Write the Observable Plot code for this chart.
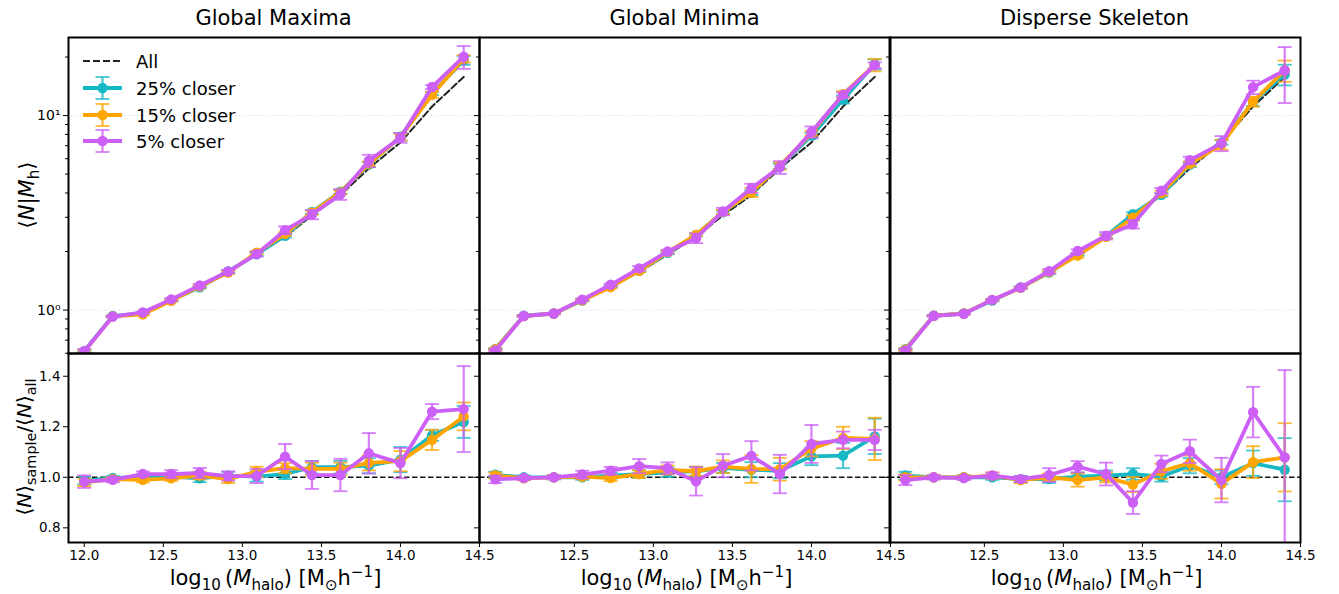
<!DOCTYPE html>
<html><head><meta charset="utf-8">
<script src="https://cdn.jsdelivr.net/npm/d3@7"></script>
<script src="https://cdn.jsdelivr.net/npm/@observablehq/plot@0.6"></script>
<style>
body{margin:0;background:#fff;font-family:"DejaVu Sans",sans-serif;color:#000;}
#root{position:relative;width:1339px;height:594px;overflow:hidden;background:#fff;}
.abs{position:absolute;white-space:nowrap;}
.title{font-size:21px;transform:translate(-50%,-50%);}
.xlab{font-size:21px;transform:translate(-50%,-50%);}
.ylab{font-size:21px;transform:translate(-50%,-50%) rotate(-90deg);}
.ylab2{font-size:20px;transform:translate(-50%,-50%) rotate(-90deg);}
sub,sup{font-size:72%;line-height:0;}
.leg{font-size:18px;transform:translateY(-50%);}
</style></head><body><div id="root"></div><script>
// ---------------- data ----------------
const massBins = [12.0, 12.18, 12.37, 12.55, 12.73, 12.91, 13.09, 13.27, 13.44, 13.62, 13.8, 14.0, 14.2, 14.4];
const nAll = [0.625, 0.935, 0.96, 1.12, 1.315, 1.57, 1.93, 2.38, 3.07, 3.9, 5.35, 7.28, 11.13, 15.8];
const panelTitles = ["Global Maxima", "Global Minima", "Disperse Skeleton"];
const sampleNames = ["25% closer", "15% closer", "5% closer"];
const sampleColors = ["#17b8c5", "#ffa500", "#cc5ff6"];
const xTicksFirst = [12.0, 12.5, 13.0, 13.5, 14.0, 14.5];
const xTicksOther = [12.5, 13.0, 13.5, 14.0, 14.5];
const yTopMajor = [1, 10];
const yTopMinor = [0.6, 0.7, 0.8, 0.9, 2, 3, 4, 5, 6, 7, 8, 9, 20];
const yBottomTicks = [0.8, 1.0, 1.2, 1.4];

// Global Maxima
const gmaxN25 = [0.617, 0.932, 0.963, 1.123, 1.31, 1.581, 1.936, 2.411, 3.193, 4.056, 5.596, 7.79, 12.98, 19.26];
const gmaxN15 = [0.613, 0.928, 0.950, 1.116, 1.324, 1.559, 1.972, 2.466, 3.171, 4.029, 5.655, 7.746, 12.78, 19.61];
const gmaxN5  = [0.614, 0.926, 0.972, 1.135, 1.337, 1.578, 1.940, 2.575, 3.098, 3.935, 5.858, 7.688, 14.02, 20.07];
const gmaxNErr25 = [0.009, 0.007, 0.01, 0.011, 0.02, 0.024, 0.039, 0.048, 0.077, 0.098, 0.16, 0.36, 0.245, 1.0];
const gmaxNErr15 = [0.009, 0.007, 0.01, 0.011, 0.02, 0.024, 0.039, 0.048, 0.077, 0.098, 0.16, 0.29, 0.45, 0.87];
const gmaxNErr5  = [0.016, 0.009, 0.01, 0.017, 0.026, 0.031, 0.058, 0.119, 0.169, 0.25, 0.43, 0.44, 0.33, 2.69];
const gmaxR25 = [0.987, 0.997, 1.003, 1.003, 0.996, 1.007, 1.003, 1.013, 1.04, 1.04, 1.046, 1.07, 1.166, 1.219];
const gmaxR15 = [0.98, 0.993, 0.99, 0.996, 1.007, 0.993, 1.022, 1.036, 1.033, 1.033, 1.057, 1.064, 1.148, 1.241];
const gmaxR5  = [0.983, 0.99, 1.013, 1.013, 1.017, 1.005, 1.005, 1.082, 1.009, 1.009, 1.095, 1.056, 1.26, 1.27];
const gmaxRErr25 = [0.015, 0.008, 0.01, 0.01, 0.015, 0.015, 0.02, 0.02, 0.025, 0.025, 0.03, 0.05, 0.022, 0.063];
const gmaxRErr15 = [0.015, 0.008, 0.01, 0.01, 0.015, 0.015, 0.02, 0.02, 0.025, 0.025, 0.03, 0.04, 0.04, 0.055];
const gmaxRErr5  = [0.025, 0.01, 0.01, 0.015, 0.02, 0.018, 0.028, 0.05, 0.055, 0.064, 0.08, 0.06, 0.03, 0.17];

// Global Minima
const gminN25 = [0.631, 0.935, 0.96, 1.12, 1.324, 1.59, 1.969, 2.437, 3.184, 4.017, 5.489, 7.884, 12.09, 18.36];
const gminN15 = [0.629, 0.931, 0.96, 1.123, 1.311, 1.59, 1.986, 2.437, 3.199, 4.029, 5.521, 8.103, 12.87, 18.2];
const gminN5  = [0.62, 0.932, 0.96, 1.132, 1.349, 1.639, 1.999, 2.342, 3.211, 4.232, 5.42, 8.241, 12.78, 18.14];
const gminNErr25 = [0.0075, 0.007, 0.008, 0.011, 0.016, 0.024, 0.035, 0.043, 0.061, 0.117, 0.16, 0.255, 0.557, 1.106];
const gminNErr15 = [0.0075, 0.007, 0.008, 0.011, 0.016, 0.024, 0.035, 0.043, 0.077, 0.215, 0.241, 0.218, 0.49, 1.33];
const gminNErr5  = [0.009, 0.007, 0.008, 0.017, 0.02, 0.044, 0.044, 0.133, 0.141, 0.226, 0.407, 0.546, 0.367, 0.632];
const gminR25 = [1.01, 1.0, 1.0, 1.0, 1.007, 1.013, 1.02, 1.024, 1.037, 1.03, 1.026, 1.083, 1.086, 1.162];
const gminR15 = [1.007, 0.996, 1.0, 1.003, 0.997, 1.013, 1.029, 1.024, 1.042, 1.033, 1.032, 1.113, 1.156, 1.152];
const gminR5  = [0.992, 0.997, 1.0, 1.011, 1.026, 1.044, 1.036, 0.984, 1.046, 1.085, 1.013, 1.132, 1.148, 1.148];
const gminRErr25 = [0.012, 0.008, 0.008, 0.01, 0.012, 0.015, 0.018, 0.018, 0.02, 0.03, 0.03, 0.035, 0.05, 0.07];
const gminRErr15 = [0.012, 0.008, 0.008, 0.01, 0.012, 0.015, 0.018, 0.018, 0.025, 0.055, 0.045, 0.03, 0.044, 0.084];
const gminRErr5  = [0.015, 0.008, 0.008, 0.015, 0.015, 0.028, 0.023, 0.056, 0.046, 0.058, 0.076, 0.075, 0.033, 0.04];

// Disperse Skeleton
const dispN25 = [0.629, 0.935, 0.96, 1.12, 1.306, 1.559, 1.936, 2.397, 3.11, 3.912, 5.596, 7.28, 11.75, 16.27];
const dispN15 = [0.625, 0.935, 0.96, 1.128, 1.301, 1.57, 1.909, 2.38, 2.981, 3.994, 5.65, 7.091, 11.8, 17.05];
const dispN5  = [0.618, 0.935, 0.957, 1.128, 1.306, 1.584, 2.011, 2.411, 2.763, 4.107, 5.901, 7.2, 14.0, 17.05];
const dispNErr25 = [0.009, 0.0075, 0.008, 0.011, 0.016, 0.024, 0.029, 0.048, 0.071, 0.078, 0.16, 0.197, 0.557, 1.975];
const dispNErr15 = [0.0075, 0.0075, 0.008, 0.013, 0.016, 0.024, 0.05, 0.048, 0.092, 0.117, 0.16, 0.422, 0.701, 2.133];
const dispNErr5  = [0.0125, 0.0075, 0.008, 0.013, 0.016, 0.042, 0.042, 0.107, 0.138, 0.129, 0.246, 0.641, 1.113, 5.45];
const dispR25 = [1.007, 1.0, 1.0, 1.0, 0.993, 0.993, 1.003, 1.007, 1.013, 1.003, 1.046, 1.0, 1.056, 1.03];
const dispR15 = [1.0, 1.0, 1.0, 1.007, 0.989, 1.0, 0.989, 1.0, 0.971, 1.024, 1.056, 0.974, 1.06, 1.079];
const dispR5  = [0.989, 1.0, 0.997, 1.007, 0.993, 1.009, 1.042, 1.013, 0.9, 1.053, 1.103, 0.989, 1.258, 1.079];
const dispRErr25 = [0.015, 0.008, 0.008, 0.01, 0.012, 0.015, 0.015, 0.02, 0.023, 0.02, 0.03, 0.027, 0.05, 0.125];
const dispRErr15 = [0.012, 0.008, 0.008, 0.012, 0.012, 0.015, 0.026, 0.02, 0.03, 0.03, 0.03, 0.058, 0.063, 0.135];
const dispRErr5  = [0.02, 0.008, 0.008, 0.012, 0.012, 0.027, 0.022, 0.045, 0.045, 0.033, 0.046, 0.088, 0.1, 0.345];

const panelData = [
  {n: [gmaxN25, gmaxN15, gmaxN5], ne: [gmaxNErr25, gmaxNErr15, gmaxNErr5], r: [gmaxR25, gmaxR15, gmaxR5], re: [gmaxRErr25, gmaxRErr15, gmaxRErr5]},
  {n: [gminN25, gminN15, gminN5], ne: [gminNErr25, gminNErr15, gminNErr5], r: [gminR25, gminR15, gminR5], re: [gminRErr25, gminRErr15, gminRErr5]},
  {n: [dispN25, dispN15, dispN5], ne: [dispNErr25, dispNErr15, dispNErr5], r: [dispR25, dispR15, dispR5], re: [dispRErr25, dispRErr15, dispRErr5]}
];

// ---------------- layout ----------------
const root = document.getElementById("root");
const panelLeft = [68, 479, 889];
const panelW = 411;
const rowTop = [37, 353];
const rowH = [316, 189];
const capSymbol = {draw(ctx, size) { const r = Math.sqrt(size / Math.PI); ctx.moveTo(-r, 0); ctx.lineTo(r, 0); }};

function rows(xs, ys, es, si) {
  return xs.map((x, i) => ({x, y: ys[i], lo: ys[i] - es[i], hi: ys[i] + es[i], s: si}));
}

function makePanel(col, row) {
  const mL = 60, mR = 20, mT = 20, mB = row === 0 ? 20 : 40;
  const pd = panelData[col];
  const vals = row === 0 ? pd.n : pd.r;
  const errs = row === 0 ? pd.ne : pd.re;
  const marks = [];
  if (row === 0) {
    marks.push(Plot.gridY(yTopMajor, {stroke: "#cfcfcf", strokeOpacity: 1, strokeDasharray: "1,2", strokeWidth: 0.8}));
    marks.push(Plot.line(massBins.map((x, i) => ({x, y: nAll[i]})), {x: "x", y: "y", stroke: "#222", strokeWidth: 2, strokeDasharray: "7,3", clip: true}));
  } else {
    marks.push(Plot.ruleY([1], {stroke: "#111", strokeWidth: 1.4, strokeDasharray: "5.5,2.5"}));
  }
  for (let s = 0; s < 3; s++) {
    const d = rows(massBins, vals[s], errs[s], s);
    const c = sampleColors[s];
    marks.push(Plot.ruleX(d, {x: "x", y1: "lo", y2: "hi", stroke: c, strokeWidth: 2.2, strokeOpacity: 0.8, clip: true}));
    marks.push(Plot.dot(d, {x: "x", y: "lo", symbol: capSymbol, r: 7, stroke: c, strokeWidth: 1.8, strokeOpacity: 0.8, fill: "none", clip: true}));
    marks.push(Plot.dot(d, {x: "x", y: "hi", symbol: capSymbol, r: 7, stroke: c, strokeWidth: 1.8, strokeOpacity: 0.8, fill: "none", clip: true}));
    marks.push(Plot.line(d, {x: "x", y: "y", stroke: c, strokeWidth: 3.8, clip: true}));
    marks.push(Plot.dot(d, {x: "x", y: "y", r: 5.2, fill: c, stroke: "none", clip: true}));
  }
  // axes
  if (row === 0) {
    marks.push(Plot.axisY(yTopMajor, {anchor: "left", tickSize: 5, tickPadding: 3, fontSize: 14, label: null,
      tickFormat: col === 0 ? (d => d === 1 ? "10\u2070" : "10\u00b9") : (() => "")}));
    marks.push(Plot.axisY(yTopMinor, {anchor: "left", tickSize: 3, label: null, tickFormat: () => ""}));
  } else {
    marks.push(Plot.axisY(yBottomTicks, {anchor: "left", tickSize: 5, tickPadding: 3, fontSize: 13.5, label: null,
      tickFormat: col === 0 ? d3.format(".1f") : (() => "")}));
    marks.push(Plot.axisX(col === 0 ? xTicksFirst : xTicksOther, {anchor: "bottom", tickSize: 5, tickPadding: 3, fontSize: 13.5, label: null,
      tickFormat: d3.format(".1f")}));
  }
  marks.push(Plot.frame({stroke: "black", strokeWidth: 2}));
  const svg = Plot.plot({
    width: mL + panelW + mR, height: mT + rowH[row] + mB,
    marginLeft: mL, marginRight: mR, marginTop: mT, marginBottom: mB,
    x: {domain: [11.9, 14.5], axis: null},
    y: row === 0 ? {type: "log", domain: [0.598, 25.2], axis: null} : {domain: [0.742, 1.49], axis: null},
    style: {background: "transparent", overflow: "visible", fontFamily: "DejaVu Sans, sans-serif", color: "black"},
    marks
  });
  svg.style.position = "absolute";
  svg.style.left = (panelLeft[col] - mL) + "px";
  svg.style.top = (rowTop[row] - mT) + "px";
  svg.style.maxWidth = "none";
  root.appendChild(svg);
}

for (let col = 0; col < 3; col++) for (let row = 0; row < 2; row++) makePanel(col, row);

// ---------------- text ----------------
function addText(html, cls, x, y) {
  const el = document.createElement("div");
  el.className = "abs " + cls;
  el.style.left = x + "px";
  el.style.top = y + "px";
  el.innerHTML = html;
  root.appendChild(el);
  return el;
}
panelTitles.forEach((t, i) => addText(t, "title", panelLeft[i] + panelW / 2, 18));
const xLabel = "log<sub>10</sub>\u2009(<i>M</i><sub>halo</sub>) [M<sub>\u2299</sub>h<sup>\u22121</sup>]";
panelTitles.forEach((t, i) => addText(xLabel, "xlab", panelLeft[i] + panelW / 2 + 2, 578));
addText("\u27e8<i>N</i>|<i>M</i><sub>h</sub>\u27e9", "ylab", 27, 195);
addText("\u27e8<i>N</i>\u27e9<sub>sample</sub>/\u27e8<i>N</i>\u27e9<sub>all</sub>", "ylab2", 24, 447);

// ---------------- legend ----------------
const legendRows = [{label: "All", y: 61, kind: "all"}].concat(sampleNames.map((n, i) => ({label: n, y: 88 + i * 26.7, kind: "s", c: sampleColors[i]})));
legendRows.forEach(r => {
  const ns = "http://www.w3.org/2000/svg";
  const sv = document.createElementNS(ns, "svg");
  sv.setAttribute("width", 44); sv.setAttribute("height", 30);
  sv.style.position = "absolute"; sv.style.left = "81px"; sv.style.top = (r.y - 15) + "px"; sv.style.overflow = "visible";
  if (r.kind === "all") {
    sv.innerHTML = `<line x1="2" x2="41" y1="15" y2="15" stroke="#222" stroke-width="2" stroke-dasharray="7,3"/>`;
  } else {
    sv.innerHTML = `<line x1="2" x2="41" y1="15" y2="15" stroke="${r.c}" stroke-width="3.8"/>
      <line x1="21.5" x2="21.5" y1="4" y2="26" stroke="${r.c}" stroke-width="2.2" stroke-opacity="0.8"/>
      <line x1="14.5" x2="28.5" y1="4" y2="4" stroke="${r.c}" stroke-width="1.8" stroke-opacity="0.8"/>
      <line x1="14.5" x2="28.5" y1="26" y2="26" stroke="${r.c}" stroke-width="1.8" stroke-opacity="0.8"/>
      <circle cx="21.5" cy="15" r="5.2" fill="${r.c}"/>`;
  }
  root.appendChild(sv);
  addText(r.label, "leg", 136, r.y);
});
</script></body></html>
